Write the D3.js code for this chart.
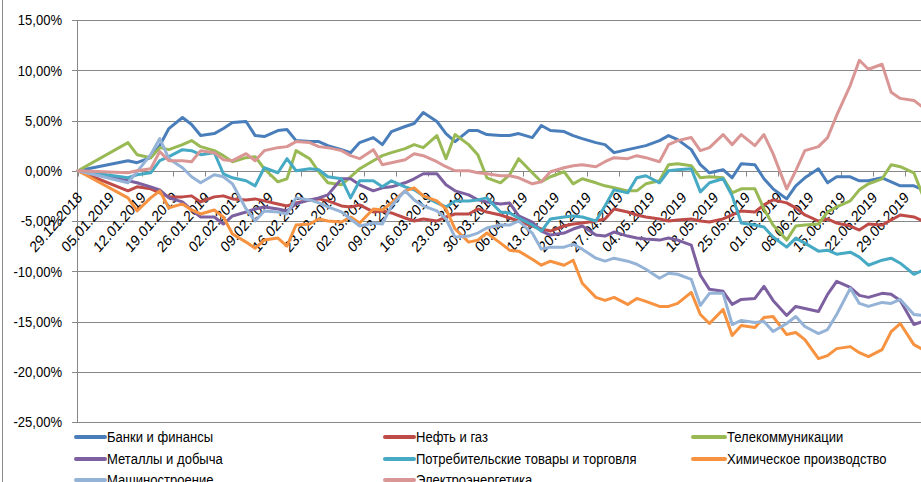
<!DOCTYPE html>
<html><head><meta charset="utf-8">
<script src="https://cdn.jsdelivr.net/npm/d3@7"></script>
<style>body{margin:0;background:#fff;}svg{display:block;font-family:"Liberation Sans",Arial,sans-serif;}</style>
</head><body><svg id="c" width="921" height="482"></svg>
<script>
const dates = ["2018-12-29","2019-01-09","2019-01-11","2019-01-14","2019-01-16","2019-01-18","2019-01-21","2019-01-23","2019-01-25","2019-01-28","2019-01-30","2019-02-01","2019-02-04","2019-02-06","2019-02-08","2019-02-11","2019-02-13","2019-02-15","2019-02-18","2019-02-20","2019-02-22","2019-02-25","2019-02-27","2019-03-01","2019-03-04","2019-03-06","2019-03-08","2019-03-11","2019-03-13","2019-03-15","2019-03-18","2019-03-20","2019-03-22","2019-03-25","2019-03-27","2019-03-29","2019-04-01","2019-04-03","2019-04-05","2019-04-08","2019-04-10","2019-04-12","2019-04-15","2019-04-17","2019-04-19","2019-04-22","2019-04-24","2019-04-26","2019-04-29","2019-05-01","2019-05-03","2019-05-06","2019-05-08","2019-05-10","2019-05-13","2019-05-15","2019-05-17","2019-05-20","2019-05-22","2019-05-24","2019-05-27","2019-05-29","2019-05-31","2019-06-03","2019-06-05","2019-06-07","2019-06-10","2019-06-12","2019-06-14","2019-06-17","2019-06-19","2019-06-21","2019-06-24","2019-06-26","2019-06-28","2019-07-01","2019-07-03"];

const banks = [0,1.0,0.8,1.3,2.5,4.2,5.3,4.6,3.5,3.7,4.2,4.8,4.9,3.5,3.4,4.0,4.1,3.0,2.9,2.9,2.5,2.1,1.8,2.8,3.3,2.6,3.9,4.4,4.7,5.8,4.9,3.7,2.9,4.0,4.0,3.6,3.5,3.5,3.7,3.3,4.5,4.0,3.9,3.5,3.2,2.8,2.6,1.8,2.1,2.3,2.5,3.0,3.5,3.1,2.1,0.6,-0.2,0.1,-0.7,0.7,0.6,-0.8,-1.8,-2.8,-1.5,-0.7,0.2,-1.2,-0.6,-0.6,-1.0,-1.0,-0.7,-1.1,-1.5,-1.5,-1.9];
const oilGas = [0,-2.0,-1.6,-1.8,-2.2,-2.6,-2.6,-2.5,-3.1,-2.6,-2.5,-2.8,-2.9,-2.8,-3.0,-3.3,-3.5,-3.2,-2.9,-2.8,-3.0,-3.5,-3.6,-3.4,-4.1,-4.0,-4.2,-4.7,-5.0,-4.8,-5.0,-4.6,-4.3,-4.3,-3.8,-4.1,-4.4,-4.7,-5.0,-5.5,-5.8,-6.0,-5.5,-5.3,-5.2,-5.0,-4.8,-3.8,-4.1,-4.4,-4.6,-4.8,-5.0,-4.9,-4.8,-5.0,-5.1,-4.8,-4.4,-4.0,-4.1,-3.4,-2.9,-3.2,-3.7,-4.4,-5.0,-4.8,-5.2,-5.5,-5.9,-5.3,-5.4,-4.9,-4.4,-4.6,-5.0];
const telecom = [0,2.8,1.6,1.3,2.3,2.1,2.6,3.0,2.4,2.0,1.5,0.9,1.3,1.4,0.2,-1.1,-0.8,2.0,1.2,-0.1,-1.2,-1.4,-0.6,0.2,1.0,1.5,1.8,2.2,2.6,2.3,3.5,1.2,3.6,2.6,1.6,-0.7,-1.2,-0.4,1.2,-0.2,-1.1,-0.6,-0.1,-1.3,-0.8,-1.2,-1.5,-1.7,-2.0,-2.0,-1.3,-1.0,0.6,0.7,0.5,-0.7,-0.6,-0.7,-2.2,-1.8,-1.8,-3.8,-5.4,-6.9,-5.5,-5.4,-5.3,-4.1,-3.6,-3.0,-1.9,-1.3,-0.8,0.6,0.4,-0.2,-2.5];
const metals = [0,-1.0,-1.2,-1.6,-1.9,-2.7,-3.1,-3.9,-4.6,-4.6,-5.3,-4.5,-4.1,-3.8,-3.6,-3.8,-4.0,-3.3,-2.9,-2.7,-2.4,-0.8,-0.8,-1.4,-2.0,-1.7,-1.6,-1.2,-0.8,-0.3,-0.3,-1.4,-2.0,-2.4,-2.9,-3.1,-3.3,-3.2,-4.5,-5.1,-6.0,-6.4,-6.2,-5.8,-5.5,-6.4,-6.5,-6.1,-6.5,-6.7,-6.8,-6.9,-6.7,-6.9,-7.4,-10.4,-11.8,-12.0,-13.3,-12.8,-12.7,-11.5,-12.9,-14.4,-13.5,-13.7,-14.0,-12.3,-11.0,-11.6,-12.4,-12.6,-12.2,-12.3,-12.9,-15.3,-15.0];
const consumer = [0,-0.7,-0.4,-0.2,1.0,1.4,2.1,2.0,1.6,1.8,-0.3,-0.7,-1.0,-1.5,0.3,-0.2,1.2,0.0,0.2,0.1,-0.6,-0.8,-2.7,-1.0,-1.0,-1.6,-1.0,-1.6,-1.9,-2.5,-3.2,-3.6,-3.0,-3.0,-2.9,-2.7,-4.1,-4.2,-4.7,-5.4,-6.0,-4.8,-4.6,-4.5,-4.6,-5.0,-3.5,-1.9,-2.2,-0.7,-0.5,-1.2,0.0,0.1,0.2,-2.1,-1.2,-0.8,-2.5,-5.2,-5.4,-5.6,-6.6,-7.6,-6.7,-7.2,-8.0,-7.9,-8.3,-8.1,-8.6,-9.4,-8.9,-8.7,-9.2,-10.3,-9.9];
const chemicals = [0,-2.7,-4.0,-2.7,-2.0,-3.7,-3.3,-3.9,-4.3,-3.9,-4.6,-6.3,-7.1,-7.7,-6.9,-6.7,-7.5,-5.4,-5.3,-4.8,-5.0,-5.1,-4.6,-5.2,-3.8,-3.9,-3.2,-2.0,-1.7,-2.5,-3.0,-3.8,-5.8,-7.1,-6.9,-6.2,-7.2,-7.9,-8.0,-8.8,-9.4,-9.0,-9.4,-8.9,-11.2,-12.6,-12.9,-12.6,-13.3,-12.7,-13.0,-13.5,-13.5,-13.2,-12.1,-14.3,-15.2,-13.8,-16.4,-15.4,-15.6,-14.6,-14.5,-16.3,-16.1,-16.8,-18.7,-18.4,-17.7,-17.5,-18.1,-18.5,-17.8,-16.0,-15.2,-17.3,-17.8];
const machinery = [0,-1.2,-0.1,1.6,3.2,1.2,0.3,-0.6,-1.2,-0.4,-0.6,-1.3,-3.8,-5.0,-4.0,-4.1,-4.3,-2.7,-2.9,-3.2,-3.6,-4.1,-4.8,-5.5,-5.2,-5.3,-3.5,-2.0,-2.9,-3.5,-4.0,-4.8,-6.6,-6.5,-6.2,-5.7,-5.4,-5.4,-5.0,-6.2,-7.8,-7.6,-7.6,-7.3,-7.8,-8.7,-9.0,-8.7,-9.0,-9.3,-9.8,-10.7,-10.2,-10.3,-10.8,-13.4,-12.2,-12.2,-15.3,-14.9,-15.1,-15.0,-16.0,-15.2,-14.5,-15.5,-16.2,-15.8,-14.3,-11.7,-13.2,-13.5,-13.1,-13.2,-12.8,-14.3,-14.4];
const power = [0,-0.2,0.0,0.2,1.9,1.0,1.0,0.9,2.0,1.8,1.1,1.0,1.7,1.0,2.0,2.3,2.4,2.9,2.8,2.4,2.3,2.0,1.5,1.2,2.1,0.6,0.8,1.1,1.7,1.5,0.9,0.4,0.0,0.0,-0.2,-0.3,-0.5,-0.5,-0.7,-1.3,-1.1,-0.1,0.3,0.5,0.6,0.4,0.9,1.3,1.2,1.5,1.3,0.9,2.6,3.0,3.3,2.0,2.3,3.6,2.6,3.6,2.5,3.6,1.7,-1.8,0.0,2.0,2.4,3.3,5.5,8.5,11.0,10.1,10.6,7.8,7.2,7.0,6.3];

const seriesNames = ["Банки и финансы","Нефть и газ","Телекоммуникации","Металлы и добыча","Потребительские товары и торговля","Химическое производство","Машиностроение","Электроэнергетика"];
const seriesValues = [banks, oilGas, telecom, metals, consumer, chemicals, machinery, power];
const colors = ["#4A7EBB","#BE4B48","#98B954","#7D60A0","#46AAC5","#F69240","#95B3D7","#D99694"];

const xTickLabels = ["29.12.2018","05.01.2019","12.01.2019","19.01.2019","26.01.2019","02.02.2019","09.02.2019","16.02.2019","23.02.2019","02.03.2019","09.03.2019","16.03.2019","23.03.2019","30.03.2019","06.04.2019","13.04.2019","20.04.2019","27.04.2019","04.05.2019","11.05.2019","18.05.2019","25.05.2019","01.06.2019","08.06.2019","15.06.2019","22.06.2019","29.06.2019"];
const yTicks = [15,10,5,0,-5,-10,-15,-20,-25];

const parseD = d3.utcParse("%Y-%m-%d");
const parseL = d3.utcParse("%d.%m.%Y");
const dts = dates.map(parseD);

const svg = d3.select("#c");
const x = d3.scaleUtc().domain([parseL("29.12.2018"), parseL("29.06.2019")]).range([78, 904.8]);
const y = d3.scaleLinear().domain([-25, 15]).range([422, 20]);
const loc = d3.formatLocale({decimal:",", thousands:" ", grouping:[3], currency:["",""], minus:"-"});
const fmt = v => loc.format(".2f")(v) + "%";
const py = v => Math.round(y(v)) + 0.5;
const SX = 0.87; // horizontal squeeze of the reference's text

// left border
svg.append("line").attr("x1",2.5).attr("x2",2.5).attr("y1",0).attr("y2",482).attr("stroke","#8c8c8c");

// gridlines
svg.append("g").selectAll("line").data(yTicks).join("line")
  .attr("x1",77).attr("x2",921).attr("y1",py).attr("y2",py)
  .attr("stroke","#878787").attr("stroke-width",1);
// y ticks + labels
svg.append("g").selectAll("line").data(yTicks).join("line")
  .attr("x1",72).attr("x2",77).attr("y1",py).attr("y2",py).attr("stroke","#878787");
svg.append("g").selectAll("text").data(yTicks).join("text")
  .attr("transform",d=>`translate(62,${y(d)}) scale(${SX},1)`)
  .attr("dy","0.36em").attr("text-anchor","end")
  .attr("font-size",15).attr("fill","#000").text(fmt);
// y axis line
svg.append("line").attr("x1",77.5).attr("x2",77.5).attr("y1",py(15)).attr("y2",py(-25)).attr("stroke","#878787");

// x ticks
const y0 = py(0);
const xt = xTickLabels.map(parseL);
svg.append("g").selectAll("line").data(xt).join("line")
  .attr("x1",d=>Math.round(x(d))+0.5).attr("x2",d=>Math.round(x(d))+0.5)
  .attr("y1",y0).attr("y2",y0+5).attr("stroke","#878787");
// x labels
svg.append("g").selectAll("text").data(xTickLabels).join("text")
  .attr("transform",d=>`translate(${x(parseL(d))+5},${y0+27}) scale(${SX},1) rotate(-45)`)
  .attr("text-anchor","end").attr("font-size",15.5).attr("fill","#000").text(d=>d);

// lines
const line = d3.line().x((d,i)=>x(dts[i])).y(d=>y(d));
svg.append("g").selectAll("path").data(seriesValues).join("path")
  .attr("d",d=>line(d)).attr("fill","none")
  .attr("stroke",(d,i)=>colors[i]).attr("stroke-width",3)
  .attr("stroke-linejoin","round").attr("stroke-linecap","round");

// legend
const legCols = [[76,105,107],[385,414,416],[693,725,727]];
const legRows = [437,459,480];
const lg = svg.append("g").selectAll("g").data(seriesNames).join("g")
  .attr("transform",(d,i)=>`translate(0,${legRows[Math.floor(i/3)]})`);
lg.append("line").attr("x1",(d,i)=>legCols[i%3][0]).attr("x2",(d,i)=>legCols[i%3][1])
  .attr("y1",0).attr("y2",0).attr("stroke",(d,i)=>colors[i]).attr("stroke-width",4).attr("stroke-linecap","round");
lg.append("text").attr("transform",(d,i)=>`translate(${legCols[i%3][2]},0) scale(${SX},1)`)
  .attr("dy","0.36em").attr("font-size",15).attr("fill","#000").text(d=>d);
</script></body></html>
